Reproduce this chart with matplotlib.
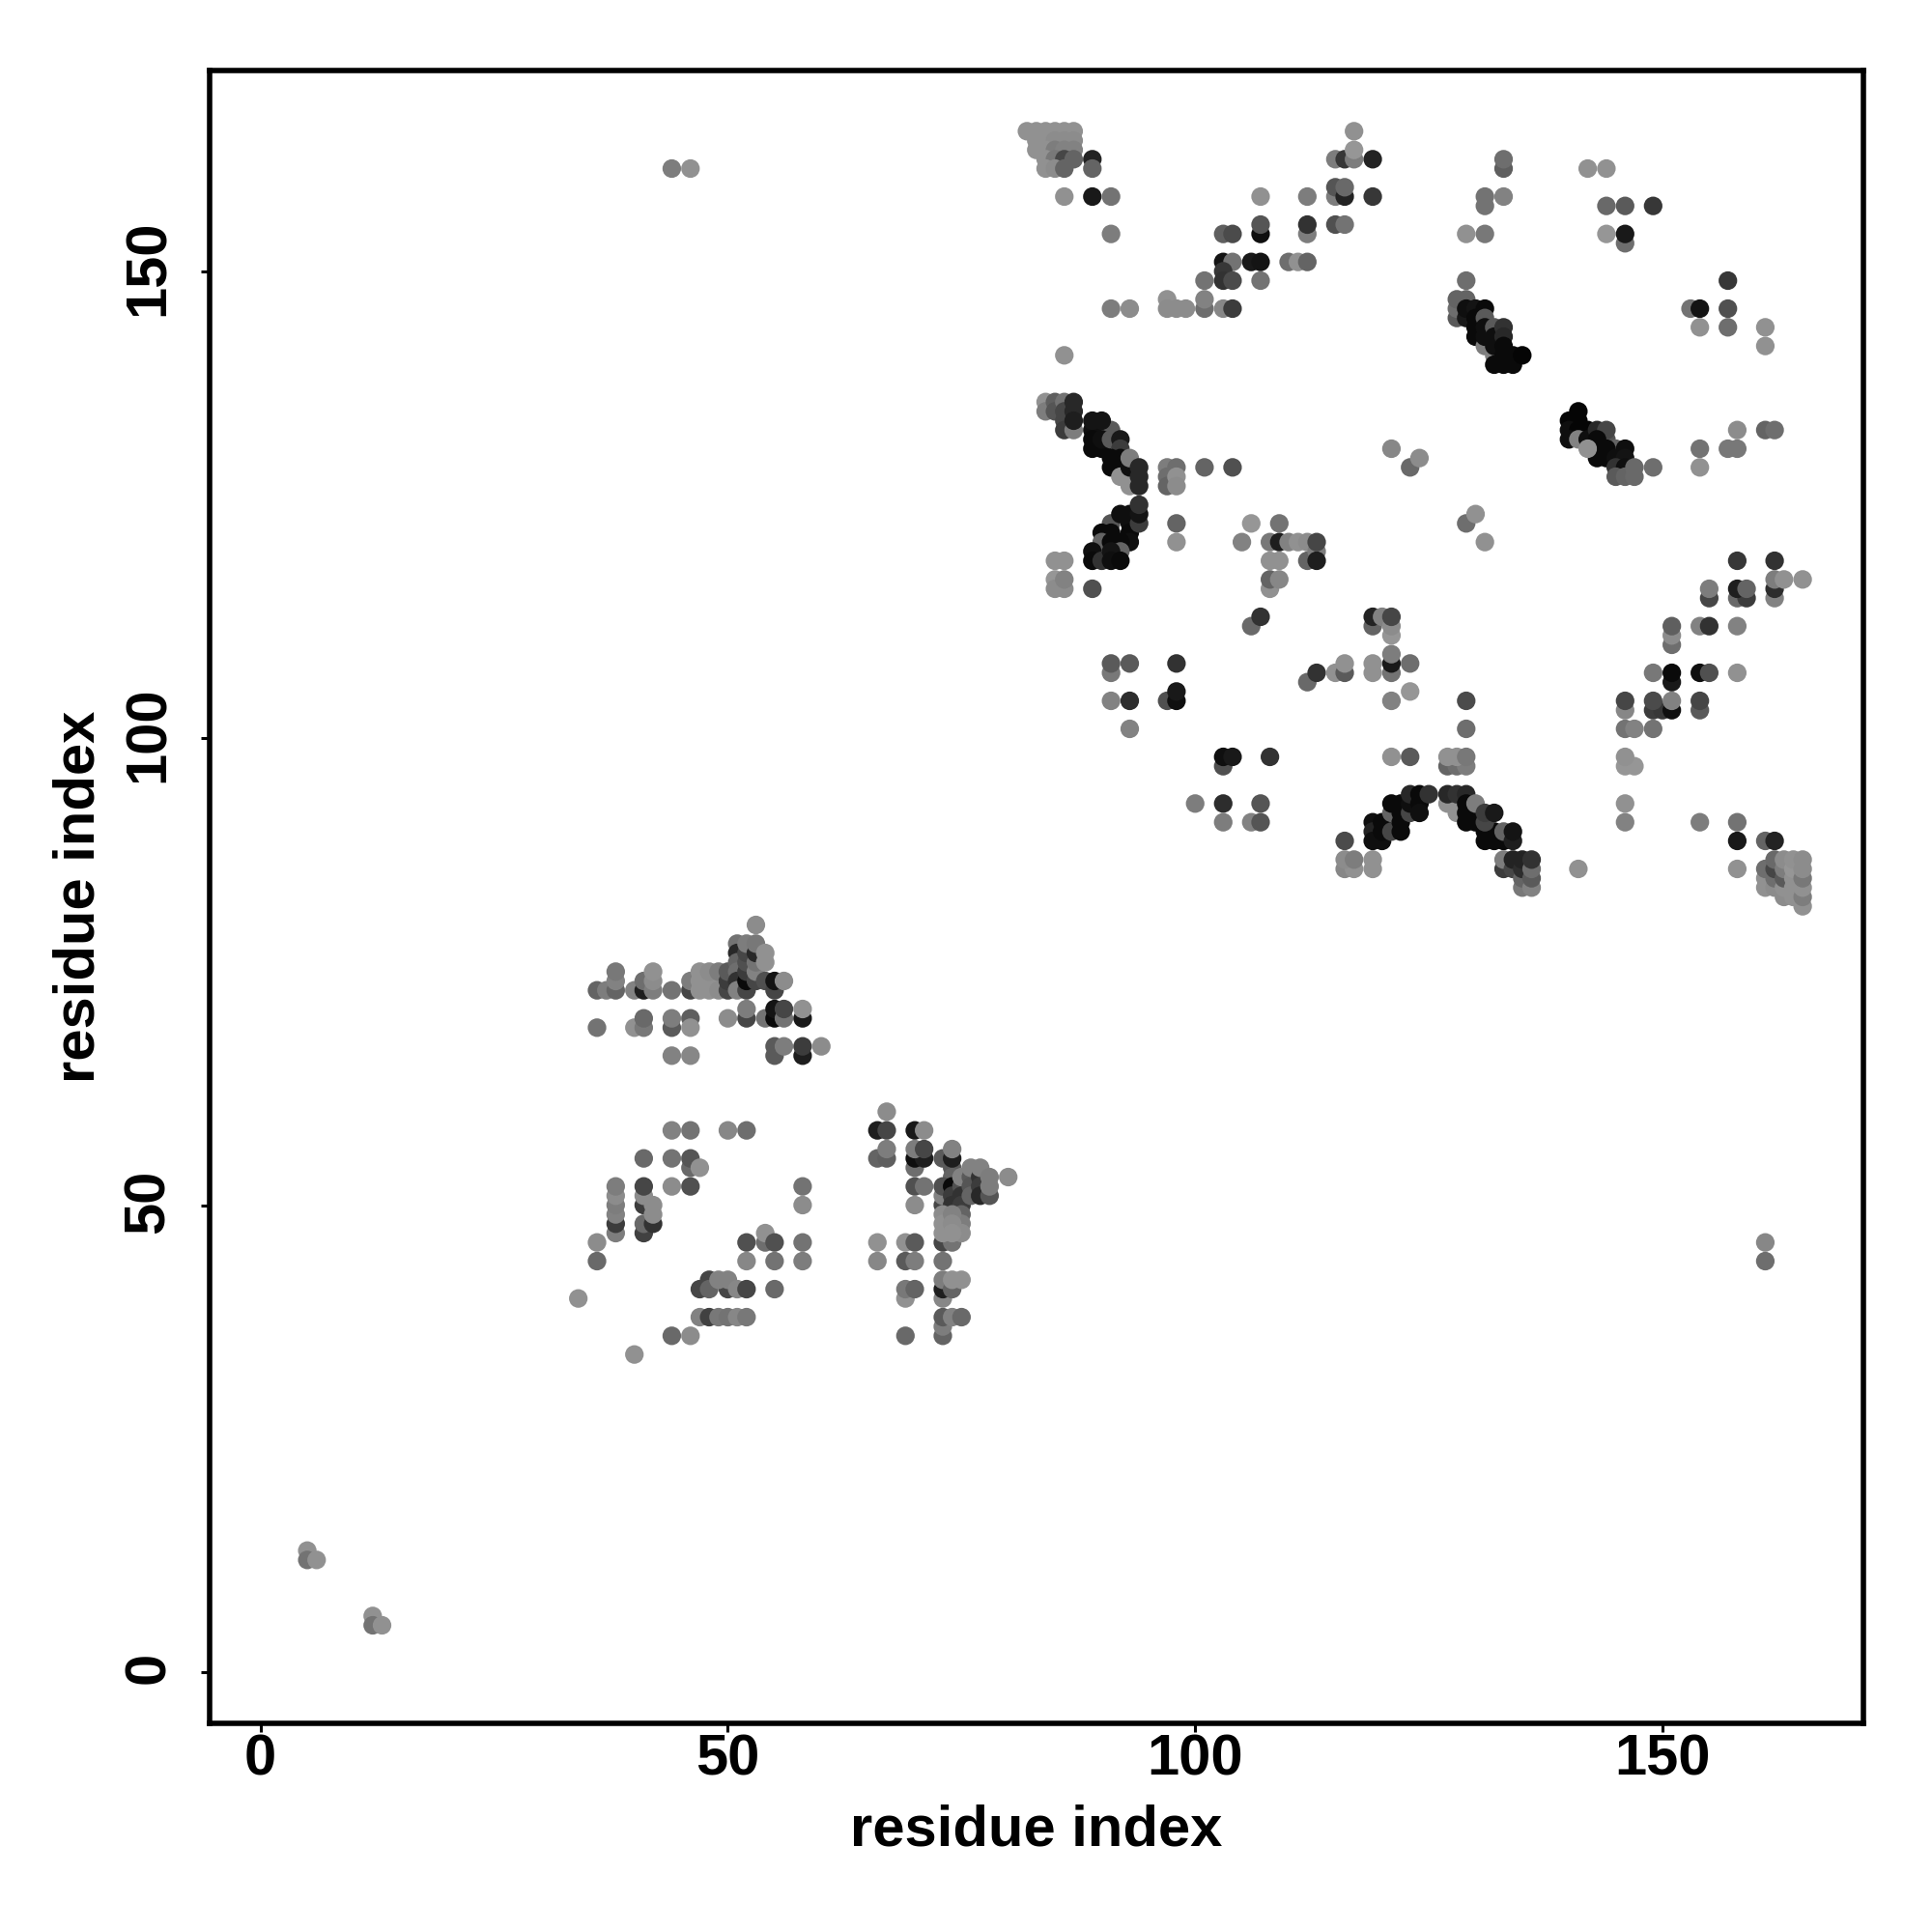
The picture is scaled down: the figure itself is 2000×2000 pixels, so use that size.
import matplotlib
matplotlib.use("Agg")
import matplotlib.pyplot as plt
from matplotlib.transforms import ScaledTranslation

plt.rcParams['font.family'] = ['Liberation Sans', 'DejaVu Sans']

# each entry: residue i, residue j, grey level of the contact
terminal_contacts = [(5,13,145),(5,12,115),(6,12,145),(12,6,145),(12,5,115),(13,5,145)]
far_contacts = [(44,161,125),(46,161,145),(161,46,135),(161,44,110)]
top_corner = [(82,165,145),(83,165,145),(84,165,145),(85,165,145),(86,165,145),(87,165,145),
    (83,164,145),(84,164,145),(85,164,140),(86,164,140),(87,164,140),
    (83,163,145),(84,163,145),(85,163,125),(86,163,130),(87,163,130),
    (84,162,145),(85,162,120),(86,162,70),(87,162,100),
    (84,161,145),(85,161,140),(86,161,100),
    (89,162,35),(89,161,100),(86,158,145),(89,158,25),(91,158,115),(91,154,125)]
upper_diag = [(117,165,145),(115,162,125),(116,162,55),(117,162,125),(117,163,150),(119,162,35),
    (115,158,125),(115,159,85),(116,158,35),(116,159,105),(119,158,55),
    (107,158,145),(112,158,125),(107,154,15),(107,155,85),(112,154,125),(112,155,50),(115,155,80),(116,155,115),
    (103,154,95),(104,154,75),(103,151,20),(104,151,115),(106,151,25),(107,151,20),
    (110,151,110),(111,151,145),(112,151,100),(103,150,55),(101,149,115),(103,149,50),(104,149,75),(107,149,115),
    (91,146,125),(93,146,140),(97,147,145),(97,146,140),(98,146,140),(99,146,140),
    (101,146,110),(101,147,130),(103,146,135),(104,146,60),(86,141,145)]
helix_a = [(84,136,145),(84,135,125),(85,136,95),(85,135,85),(86,136,115),(86,135,70),(86,134,70),(86,133,60),
    (87,133,125),(87,136,40),(87,135,40),(87,134,30),(90,133,110),(91,133,90),
    (89,133,15),(89,132,10),(89,131,10),(90,131,10),(90,132,15),(89,134,20),(90,134,20),
    (91,132,90),(92,132,25),(92,131,60),(91,130,10),(91,129,10),(92,130,10),(92,129,10),
    (92,128,145),(93,128,145),(93,127,145),(93,129,15),(93,130,125),(94,129,40),(94,128,40),(94,127,40),
    (97,129,125),(97,128,110),(97,127,100),(98,129,110),(98,128,145),(98,127,140),(101,129,100),(104,129,80)]
helix_b = [(91,123,85),(92,124,15),(93,124,15),(93,123,15),(93,122,10),(93,121,15),(94,123,60),(94,124,20),(94,125,50),
    (90,122,10),(91,122,10),(90,121,100),(91,121,10),(92,121,10),(92,120,100),
    (89,120,15),(89,119,10),(90,119,50),(91,120,20),(91,119,15),(92,119,10),
    (85,119,145),(86,119,145),(85,117,150),(85,116,140),(86,116,140),(86,117,130),(89,116,80),
    (98,123,100),(98,121,145)]
mid_upper = [(106,123,150),(109,123,115),(105,121,130),(108,121,120),(109,121,30),(110,121,130),(111,121,145),(112,121,140),
    (112,119,100),(113,120,125),(113,119,30),(113,121,70),(108,119,145),(109,119,145),
    (108,116,145),(108,117,100),(109,117,135),(106,112,105),(107,113,50),
    (91,107,120),(91,108,90),(93,108,90),(98,108,50),(91,104,130),(93,104,45),(97,104,80),(98,104,15),(98,105,25),(93,101,130),
    (103,97,80),(103,98,15),(104,98,25),(108,98,50),(100,93,125),(103,93,45),(107,93,85),(103,91,125),(106,91,130),(107,91,85),
    (112,106,105),(113,107,50),(115,107,145),(116,107,90),(116,108,145),(119,107,145),(119,108,145),
    (121,107,115),(121,108,25),(121,109,125),(123,108,110),(123,105,150),(121,104,130),(121,98,145),(123,98,90),
    (119,112,100),(119,113,35),(120,113,130),(121,111,150),(121,112,140),(121,113,70)]
chevron_left = [(116,89,75),(116,86,135),(117,86,145),(116,87,140),(117,87,125),(119,86,145),(119,87,145),
    (119,91,15),(119,90,35),(119,89,15),(120,89,15),(120,91,10),(120,90,10),
    (121,90,70),(121,92,100),(121,93,10),(122,93,10),(122,92,10),(122,91,10),(122,90,10),
    (123,92,70),(123,93,15),(123,94,40),(124,93,10),(124,92,15),(124,94,10),(125,94,50)]
chevron_right = [(127,93,145),(127,94,40),(128,92,145),(128,94,50),(129,94,40),(129,93,10),(129,92,10),(129,91,10),(130,92,10),(130,91,10),
    (130,93,125),(131,90,10),(131,89,10),(132,89,10),(133,89,10),(132,90,10),(131,91,70),(131,92,60),(132,92,25),
    (133,90,100),(134,89,30),(134,90,20),
    (133,86,60),(133,87,125),(134,86,70),(134,87,35),(135,84,120),(135,85,100),(135,86,45),(135,87,35),
    (136,84,130),(136,85,90),(136,86,110),(136,87,50),(141,86,145),
    (127,97,100),(128,97,110),(129,97,125),(127,98,145),(128,98,145),(129,98,120),(129,104,75),(129,101,110)]
right_lower = [(146,93,145),(146,91,130),(154,91,125),(158,91,115),(158,89,25),(161,89,100),(162,89,35),(158,86,145),
    (146,97,150),(147,97,150),(146,98,145),(146,103,135),(146,104,70),(149,103,60),(150,103,55),(151,103,15),(149,104,75),(151,104,130),
    (154,103,90),(154,104,70),(146,101,115),(147,101,130),(149,101,115),
    (151,106,25),(151,107,10),(149,107,120),(154,107,15),(155,107,80),(158,107,145),
    (151,110,110),(151,111,140),(151,112,95),(154,112,130),(155,112,50),(158,112,130),
    (155,115,70),(155,116,125),(158,115,105),(159,115,60),(158,116,30),(159,116,100),
    (162,115,130),(162,116,45),(162,117,125),(163,117,145),(165,117,145),(158,119,55),(162,119,50)]
corner_cluster = [(161,84,145),(161,85,145),(161,86,110),(162,84,140),(162,85,110),(162,86,70),(162,87,105),
    (163,83,140),(163,84,145),(163,85,90),(163,86,125),(163,87,140),
    (164,83,145),(164,84,145),(164,85,145),(164,86,150),(164,87,145),
    (165,82,145),(165,83,125),(165,84,145),(165,85,120),(165,86,140),(165,87,140)]
helix_c = [(128,145,90),(128,146,110),(128,147,100),(129,147,100),(129,149,110),(129,145,25),(129,146,15),(130,146,20),
    (130,145,10),(130,144,10),(130,143,10),(131,146,10),(131,145,90),(131,142,125),(131,144,15),(131,143,15),
    (132,144,90),(132,141,130),(132,143,15),(132,142,15),(133,144,50),(133,143,40),(133,142,10),(133,141,10),
    (132,140,10),(133,140,10),(134,140,10),(134,141,10),(135,141,5)]
upper_right = [(133,161,95),(133,162,110),(131,157,115),(131,158,115),(133,158,130),(129,154,145),(131,154,120),
    (142,161,145),(144,161,145),(144,157,105),(146,157,90),(149,157,55),(144,154,150),(146,153,110),(146,154,25),
    (157,149,55),(153,146,115),(154,146,20),(157,146,80),(154,144,145),(157,144,110),(161,144,145),(161,142,145)]
helix_d = [(140,134,5),(141,135,5),(141,134,5),(140,133,15),(141,133,5),(142,133,5),(140,132,15),(141,132,130),(142,132,15),
    (143,133,40),(144,132,85),(144,133,70),(143,132,10),(143,131,10),(143,130,10),(142,131,145),(145,131,100),
    (144,131,10),(144,130,10),(146,131,15),(145,130,15),(146,130,20),(145,129,50),(146,129,15),
    (145,128,90),(146,128,100),(147,128,105),(147,129,105),(149,129,110),
    (154,131,115),(154,129,145),(157,131,120),(158,131,120),(158,133,140),(161,133,100),(162,133,110),
    (121,131,135),(123,129,105),(124,130,140),(129,123,110),(130,124,145),(131,121,145)]
strand_row = [(36,73,100),(37,73,125),(38,73,100),(38,74,130),(38,75,120),(40,73,130),(41,73,30),(41,74,110),(42,73,125),(42,74,140),(42,75,145),
    (44,73,115),(46,73,70),(46,74,125),(47,73,145),(47,74,145),(47,75,145),(48,73,145),(48,74,145),(48,75,140),(49,73,140),(49,75,125),
    (50,73,70),(50,74,60),(50,75,90),(51,78,115),(51,77,40),(51,76,100),(51,75,110),(51,74,50),(51,73,130),
    (52,73,70),(52,74,10),(52,75,60),(52,76,80),(52,77,70),(52,78,125),(53,74,70),(53,75,130),(53,76,115),(53,77,40),(53,78,120),(53,80,140),
    (54,74,80),(54,76,145),(54,77,145),(55,73,70),(55,74,20),(56,74,140)]
strand_low = [(36,69,115),(40,69,145),(41,69,120),(41,70,105),(44,69,90),(44,70,125),(46,70,95),(46,69,145),(50,70,140),(52,70,70),(52,71,125),
    (54,70,115),(55,70,10),(55,71,20),(56,70,115),(56,71,70),(58,70,25),(58,71,145),
    (44,66,130),(46,66,135),(55,66,90),(55,67,90),(56,67,125),(58,66,30),(58,67,60),(60,67,140)]
lower_left = [(44,58,130),(46,58,115),(50,58,135),(52,58,110),(41,55,105),(44,55,115),(46,54,105),(46,55,85),(47,54,145),
    (38,47,125),(38,48,60),(38,49,130),(38,50,125),(38,51,140),(38,52,125),
    (41,47,65),(41,48,105),(41,50,60),(41,51,140),(41,52,70),(42,48,50),(42,49,140),(42,50,140),(44,52,140),(46,52,80),
    (58,52,115),(58,50,140),(36,46,140),(36,44,105),(52,46,80),(54,46,110),(54,47,145),(55,46,80),(58,46,115),
    (52,44,135),(55,44,115),(58,44,125),(47,41,70),(48,42,70),(48,41,100),(50,41,70),(49,42,130),(50,42,130),(51,41,135),(52,41,70),(55,41,105),
    (34,40,145),(47,38,130),(48,38,65),(49,38,120),(50,38,115),(51,38,135),(52,38,120),(44,36,105),(46,36,140),(40,34,145)]
lower_mid = [(67,60,140),(66,58,30),(67,58,70),(66,55,100),(67,55,95),(67,56,125),
    (70,58,25),(71,58,140),(70,54,110),(70,55,15),(71,55,30),(70,56,125),(71,56,70),(70,52,80),(71,52,115),(70,50,140),
    (73,55,90),(74,54,90),(74,53,100),(74,55,30),(74,56,130),(73,46,70),(74,46,115),(73,50,70),(73,51,130),(73,52,80),
    (74,52,10),(74,51,60),(74,50,50),(75,52,80),(75,51,50),(75,50,60),(75,49,100),(75,48,125),(75,47,140),(75,53,130),
    (73,49,140),(73,48,145),(73,47,145),(74,49,130),(74,48,140),(74,47,145),
    (76,53,90),(76,52,85),(76,51,100),(76,54,130),(77,53,50),(77,52,60),(77,51,40),(77,54,130),(78,51,85),(78,52,125),(78,53,125),(80,53,140),
    (73,44,115),(66,46,145),(66,44,135),(69,46,145),(70,46,90),(69,44,90),(70,44,125),
    (73,40,135),(73,41,30),(73,42,125),(74,41,100),(74,42,145),(75,42,145),(69,40,145),(69,41,120),(70,41,100),
    (73,36,100),(73,37,125),(73,38,90),(74,38,130),(75,38,105),(69,36,105)]

groups = [terminal_contacts, far_contacts, top_corner, upper_diag, helix_a, helix_b, mid_upper,
          chevron_left, chevron_right, right_lower, corner_cluster, helix_c, upper_right, helix_d,
          strand_row, strand_low, lower_left, lower_mid]
tick_values = [0, 50, 100, 150]
axis_label = 'residue index'

fig = plt.figure(figsize=(10, 10), dpi=200)
ax = fig.add_axes([216.5/2000, 1-1784/2000, (1929-216.5)/2000, (1784-73)/2000])
for g in groups:
    xs = [p[0] for p in g]
    ys = [p[1] for p in g]
    cs = [(p[2]/255,)*3 for p in g]
    ax.scatter(xs, ys, s=48, c=cs, linewidths=0, zorder=3)

ax.set_xlim(-5.5, 171.5)
ax.set_ylim(-5.5, 171.5)
ax.set_xticks(tick_values)
ax.set_yticks(tick_values)
for s in ax.spines.values():
    s.set_linewidth(2.0)
ax.tick_params(length=3.4, width=1.1, labelsize=21.5)
ax.tick_params(axis='x', pad=0.2)
ax.tick_params(axis='y', pad=9)
for t in ax.get_xticklabels() + ax.get_yticklabels():
    t.set_fontweight('bold')
shift_up = ScaledTranslation(0, 4/200, fig.dpi_scale_trans)
for t in ax.get_yticklabels():
    t.set_rotation(90)
    t.set_va('center')
    t.set_transform(t.get_transform() + shift_up)
fig.text(1072.7/2000, 1-1910.7/2000, axis_label, fontsize=21.5, fontweight='bold',
         ha='center', va='baseline')
fig.text(98/2000, 1-928.5/2000, axis_label, fontsize=21.5, fontweight='bold',
         ha='center', va='baseline', rotation=90, rotation_mode='anchor')
fig.savefig('out.png', dpi=200, facecolor='white')
